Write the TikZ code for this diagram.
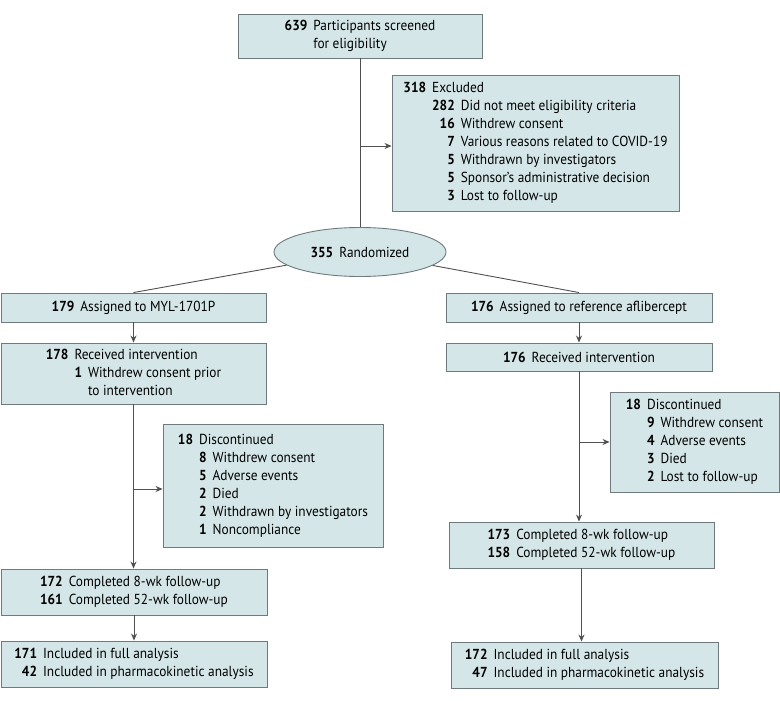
\documentclass[tikz,border=0pt]{standalone}
\usepackage{fontspec}
\setmainfont{PT Sans}[FakeStretch=0.92]
\usetikzlibrary{arrows.meta,shapes.geometric}
\definecolor{boxfill}{RGB}{212,230,232}
\definecolor{boxline}{RGB}{110,122,125}
\definecolor{conn}{RGB}{80,80,80}
\tikzset{
  flowbox/.style={draw=boxline, fill=boxfill, line width=0.9pt, rectangle, inner sep=0pt, align=center},
  flowell/.style={draw=boxline, fill=boxfill, line width=0.9pt, ellipse, inner sep=0pt},
  link/.style={draw=conn, line width=0.9pt},
  arr/.style={draw=conn, line width=0.9pt, -{Stealth[length=7pt,width=6pt]}},
}
\newcommand{\nb}[1]{\textbf{#1}}
\newenvironment{flowtab}[1]{\setlength{\tabcolsep}{3pt}\begin{tabular}{@{}#1@{}}}{\end{tabular}}
\begin{document}
\begin{tikzpicture}[x=1pt,y=-1pt,font=\fontsize{14.5}{18}\selectfont]
\useasboundingbox (0,0) rectangle (780,701);
% boxes
\node[flowbox, minimum width=244pt, minimum height=44pt] (scr) at (360,36)
  {\begin{flowtab}{rl}\nb{639} & Participants screened\\ & for eligibility\end{flowtab}};
\node[flowbox, minimum width=287pt, minimum height=136pt] (exc) at (535.5,143)
  {\begin{flowtab}{rrl}\nb{318} & \multicolumn{2}{l@{}}{Excluded}\\
   & \nb{282} & Did not meet eligibility criteria\\
   & \nb{16} & Withdrew consent\\
   & \nb{7} & Various reasons related to COVID-19\\
   & \nb{5} & Withdrawn by investigators\\
   & \nb{5} & Sponsor's administrative decision\\
   & \nb{3} & Lost to follow-up\end{flowtab}};
\node[flowell, minimum width=172pt, minimum height=49pt] (rand) at (360,252)
  {\nb{355}\hspace{6pt}Randomized};
\node[flowbox, minimum width=265pt, minimum height=29pt] (l1) at (133.5,307.5)
  {\nb{179}\hspace{6pt}Assigned to MYL-1701P};
\node[flowbox, minimum width=266pt, minimum height=29pt] (r1) at (579,307.5)
  {\nb{176}\hspace{6pt}Assigned to reference aflibercept};
\node[flowbox, minimum width=265pt, minimum height=61pt] (l2) at (133.5,373.5)
  {\begin{flowtab}{rrl}\nb{178} & \multicolumn{2}{l@{}}{Received intervention}\\
   & \nb{1} & Withdrew consent prior\\
   & & to intervention\end{flowtab}};
\node[flowbox, minimum width=266pt, minimum height=28pt] (r2) at (579,357)
  {\nb{176}\hspace{6pt}Received intervention};
\node[flowbox, minimum width=220pt, minimum height=123pt] (dl) at (273,485.5)
  {\begin{flowtab}{rrl}\nb{18} & \multicolumn{2}{l@{}}{Discontinued}\\
   & \nb{8} & Withdrew consent\\
   & \nb{5} & Adverse events\\
   & \nb{2} & Died\\
   & \nb{2} & Withdrawn by investigators\\
   & \nb{1} & Noncompliance\end{flowtab}};
\node[flowbox, minimum width=169pt, minimum height=100pt] (dr) at (694.5,442)
  {\begin{flowtab}{rrl}\nb{18} & \multicolumn{2}{l@{}}{Discontinued}\\
   & \nb{9} & Withdrew consent\\
   & \nb{4} & Adverse events\\
   & \nb{3} & Died\\
   & \nb{2} & Lost to follow-up\end{flowtab}};
\node[flowbox, minimum width=266pt, minimum height=46pt] (l3) at (134,592)
  {\begin{flowtab}{rl}\nb{172} & Completed 8-wk follow-up\\ \nb{161} & Completed 52-wk follow-up\end{flowtab}};
\node[flowbox, minimum width=265pt, minimum height=46pt] (r3) at (581.5,545)
  {\begin{flowtab}{rl}\nb{173} & Completed 8-wk follow-up\\ \nb{158} & Completed 52-wk follow-up\end{flowtab}};
\node[flowbox, minimum width=266pt, minimum height=46pt] (l4) at (134,664)
  {\begin{flowtab}{rl}\nb{171} & Included in full analysis\\ \nb{42} & Included in pharmacokinetic analysis\end{flowtab}};
\node[flowbox, minimum width=267pt, minimum height=46pt] (r4) at (584.5,665)
  {\begin{flowtab}{rl}\nb{172} & Included in full analysis\\ \nb{47} & Included in pharmacokinetic analysis\end{flowtab}};
% connectors
\draw[link] (scr.south) -- (rand.north);
\coordinate (e1) at (360,146);
\draw[arr] (e1) -- (e1 -| exc.west);
\draw[link] (rand) -- (l1.north);
\draw[link] (rand) -- (r1.north);
\draw[arr] (l1.south) -- (l1.south |- l2.north);
\draw[arr] (r1.south) -- (r1.south |- r2.north);
\draw[arr] (l2.south) -- (l2.south |- l3.north);
\coordinate (e2) at (133.5,489);
\draw[arr] (e2) -- (e2 -| dl.west);
\draw[arr] (r2.south) -- (r2.south |- r3.north);
\coordinate (e3) at (579,442);
\draw[arr] (e3) -- (e3 -| dr.west);
\draw[arr] (l3.south) -- (l3.south |- l4.north);
\draw[arr] (r3.south) -- (r3.south |- r4.north);
\end{tikzpicture}
\end{document}
